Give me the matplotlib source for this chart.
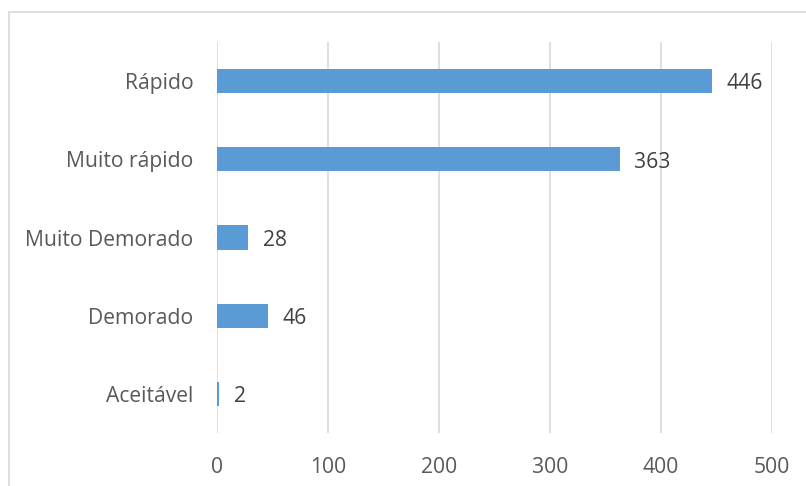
import matplotlib.pyplot as plt
from matplotlib.patches import Rectangle

categories = ["Aceitável", "Demorado", "Muito Demorado", "Muito rápido", "Rápido"]
values = [2, 46, 28, 363, 446]
xticks = [0, 100, 200, 300, 400, 500]

plt.rcParams['font.family'] = ['Open Sans', 'DejaVu Sans']
txt = '#595959'
grid = '#D9D9D9'

fig = plt.figure(figsize=(8.06, 4.86), dpi=100)
ax = fig.add_axes([217/806, 1-433/486, (772-217)/806, (433-42)/486])

# outer chart border (left/top visible, cut on right and bottom)
fig.patches.append(Rectangle((9/806, -0.1), 1.2, 1-12/486+0.1, transform=fig.transFigure,
                             fill=False, edgecolor=grid, linewidth=1.2))

y = range(len(categories))
ax.barh(y, values, height=0.31, color='#5B9BD5', zorder=3)
for yi, v in zip(y, values):
    ax.text(v + 13, yi - 0.035, str(v), va='center', ha='left', fontsize=15.2, color='#404040')

ax.set_xlim(0, 500)
ax.set_ylim(-0.5, 4.5)
ax.set_xticks(xticks)
ax.set_yticks(list(y))
ax.set_yticklabels(categories)
ax.tick_params(axis='both', length=0, labelsize=15.2, labelcolor=txt)
ax.tick_params(axis='y', pad=17)
ax.tick_params(axis='x', pad=17)
ax.grid(axis='x', color=grid, linewidth=1.2, zorder=0)
for s in ax.spines.values():
    s.set_visible(False)

fig.savefig('out.png', dpi=100)
